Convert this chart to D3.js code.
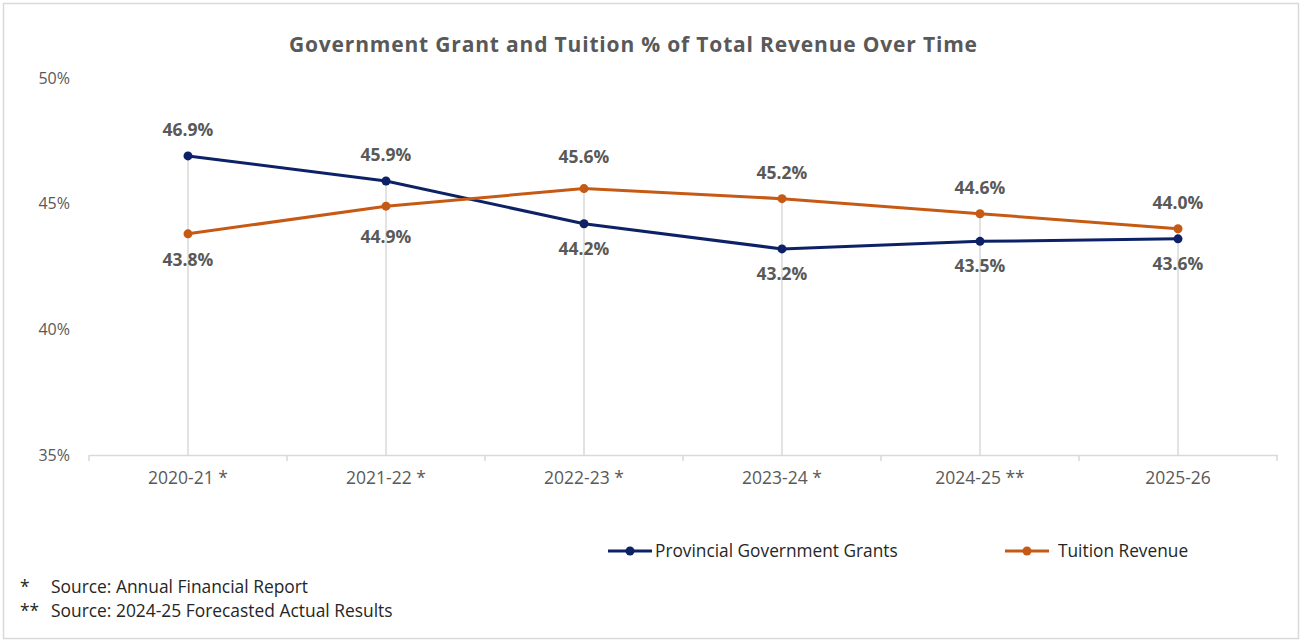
<!DOCTYPE html>
<html><head><meta charset="utf-8">
<script src="https://cdn.jsdelivr.net/npm/d3@7"></script>
<style>body{margin:0;background:#fff}svg{display:block}text{font-family:"Open Sans","Noto Sans",sans-serif}</style>
</head><body><svg id="c" width="1302" height="642"></svg>
<script>
const categories = ["2020-21 *","2021-22 *","2022-23 *","2023-24 *","2024-25 **","2025-26"];
const grants = [46.9,45.9,44.2,43.2,43.5,43.6];
const tuition = [43.8,44.9,45.6,45.2,44.6,44.0];
const yTicks = [35,40,45,50];
const seriesNames = ["Provincial Government Grants","Tuition Revenue"];
const colors = ["#0D2266","#C65A14"];
const footnotes = [["*","Source: Annual Financial Report"],["**","Source: 2024-25 Forecasted Actual Results"]];

const svg = d3.select("#c");
svg.append("rect").attr("x",3.5).attr("y",3.5).attr("width",1295).attr("height",635).attr("fill","#fff").attr("stroke","#d9d9d9").attr("stroke-width",1.5);

const x = d3.scaleBand().domain(categories).range([89,1277]);
const y = d3.scaleLinear().domain([35,50]).range([455,78]);
const cx = c => x(c)+x.bandwidth()/2;

svg.append("text").attr("x",633).attr("y",52).attr("text-anchor","middle").attr("font-size",21).attr("font-weight","bold").attr("fill","#595959")
  .attr("textLength",688).attr("lengthAdjust","spacing").text("Government  Grant and Tuition % of Total Revenue Over Time");

// y axis labels
const ya = svg.append("g").attr("transform","translate(70,0)").call(d3.axisLeft(y).tickValues(yTicks).tickSize(0).tickFormat(d=>d+"%"));
ya.select(".domain").remove();
ya.selectAll("text").attr("font-size",16).attr("fill","#595959").attr("x",0).attr("font-family","\"Open Sans\",sans-serif");

// drop lines
categories.forEach((c,i)=>{
  svg.append("line").attr("x1",cx(c)).attr("x2",cx(c)).attr("y1",y(Math.max(grants[i],tuition[i]))).attr("y2",y(35)).attr("stroke","#d9d9d9").attr("stroke-width",1.5);
});

// x axis
const xa = svg.append("g").attr("transform",`translate(0,${y(35)})`).call(d3.axisBottom(x).tickSize(0).tickPadding(17));
xa.select(".domain").attr("stroke","#d9d9d9").attr("stroke-width",1.5);
xa.selectAll("text").attr("font-size",17.5).attr("fill","#595959").attr("font-family","\"Open Sans\",sans-serif");
const bounds = categories.map(c=>x(c)).concat([x.range()[1]]);
svg.selectAll(".tk").data(bounds).enter().append("line").attr("x1",d=>d).attr("x2",d=>d).attr("y1",y(35)).attr("y2",y(35)+6).attr("stroke","#d9d9d9").attr("stroke-width",1.5);

const line = d3.line().x((d,i)=>cx(categories[i])).y(d=>y(d));
[grants,tuition].forEach((s,k)=>{
  svg.append("path").datum(s).attr("d",line).attr("fill","none").attr("stroke",colors[k]).attr("stroke-width",3);
  svg.selectAll(null).data(s).enter().append("circle").attr("cx",(d,i)=>cx(categories[i])).attr("cy",d=>y(d)).attr("r",4.5).attr("fill",colors[k]);
});
// labels (extra offsets per point, pixel nudges)
const nudgeAbove = [0,0,6,0,0,0];
const nudgeBelow = [0,5,-1,-1,-1,-1];
categories.forEach((c,i)=>{
  const g=grants[i], t=tuition[i];
  [[g, g>=t],[t, t>g]].forEach(([v,above])=>{
    svg.append("text").attr("x",cx(c)).attr("y",above? y(v)-20-nudgeAbove[i] : y(v)+32+nudgeBelow[i]).attr("text-anchor","middle").attr("font-size",17.5).attr("font-weight","bold").attr("fill","#595959").text(v.toFixed(1)+"%");
  });
});

// legend
const lg = [[608,655],[1005,1058]];
seriesNames.forEach((n,k)=>{
  const [lx,tx]=lg[k];
  svg.append("line").attr("x1",lx).attr("x2",lx+44).attr("y1",551).attr("y2",551).attr("stroke",colors[k]).attr("stroke-width",3);
  svg.append("circle").attr("cx",lx+22).attr("cy",551).attr("r",4.5).attr("fill",colors[k]);
  svg.append("text").attr("x",tx).attr("y",557).attr("font-size",17.3).attr("fill","#262626").text(n);
});
// footnotes
footnotes.forEach(([s,t],i)=>{
  svg.append("text").attr("x",20).attr("y",593+i*24).attr("font-size",17.4).attr("fill","#262626").text(s);
  svg.append("text").attr("x",51).attr("y",593+i*24).attr("font-size",17.4).attr("fill","#262626").text(t);
});
</script></body></html>
